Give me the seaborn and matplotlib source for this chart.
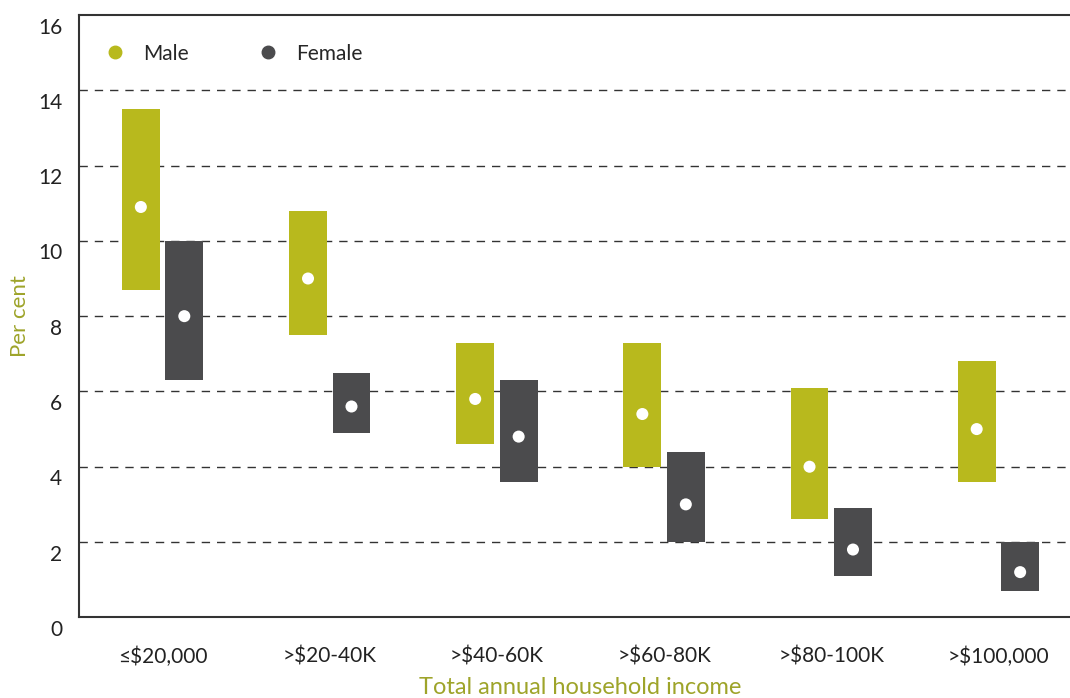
import numpy as np
import pandas as pd
import matplotlib.pyplot as plt
import matplotlib.transforms as mtransforms
import seaborn as sns
from matplotlib.lines import Line2D

# Data (per cent)
categories = ['≤$20,000', '>$20-40K', '>$40-60K', '>$60-80K', '>$80-100K', '>$100,000']
male_low = [8.7, 7.5, 4.6, 4.0, 2.6, 3.6]
male_high = [13.5, 10.8, 7.3, 7.3, 6.1, 6.8]
male_mid = [10.9, 9.0, 5.8, 5.4, 4.0, 5.0]
female_low = [6.3, 4.9, 3.6, 2.0, 1.1, 0.7]
female_high = [10.0, 6.5, 6.3, 4.4, 2.9, 2.0]
female_mid = [8.0, 5.6, 4.8, 3.0, 1.8, 1.2]

OLIVE = '#b8b91d'
DARK = '#4b4b4d'
LABEL = '#9ea42a'

rows = []
for i, c in enumerate(categories):
    rows.append(dict(cat=c, idx=i, sex='Male', low=male_low[i], high=male_high[i], mid=male_mid[i]))
    rows.append(dict(cat=c, idx=i, sex='Female', low=female_low[i], high=female_high[i], mid=female_mid[i]))
df = pd.DataFrame(rows)
offsets = {'Male': -0.13, 'Female': 0.13}
colors = {'Male': OLIVE, 'Female': DARK}
df['pos'] = df['idx'] + df['sex'].map(offsets)

sns.set_theme(style='white')
plt.rcParams['font.family'] = ['Lato', 'DejaVu Sans']

fig = plt.figure(figsize=(10.7, 6.98), dpi=100)
ax = fig.add_axes([79 / 1070, 80.7 / 698, 1003 / 1070, 602.3 / 698])

# floating range boxes
for sex in ['Male', 'Female']:
    d = df[df['sex'] == sex]
    ax.bar(d['pos'], d['high'] - d['low'], bottom=d['low'], width=0.227,
           color=colors[sex], zorder=3, linewidth=0)

# white point estimates
sns.scatterplot(data=df, x='pos', y='mid', color='white', s=75, edgecolor='none',
                zorder=4, ax=ax, legend=False)

ax.set_xlim(-0.5, 5.5)
ax.set_ylim(0, 16)
ax.set_yticks(np.arange(0, 17, 2))
ax.set_xticks(range(len(categories)))
ax.set_xticklabels(categories)
ax.set_xticks(np.arange(0.5, 5, 1), minor=True)
ax.tick_params(axis='x', which='major', length=0, pad=21, labelsize=15, labelcolor='#222222')
ax.tick_params(axis='x', which='minor', direction='in', length=11, width=1.2, color='#222222')
ax.tick_params(axis='y', length=0, pad=12, labelsize=15, labelcolor='#222222')

# y labels sit just below their gridline
shift = mtransforms.ScaledTranslation(0, -18.5 / 100, fig.dpi_scale_trans)
for lab in ax.get_yticklabels():
    lab.set_verticalalignment('baseline')
    lab.set_transform(lab.get_transform() + shift)

for y in range(2, 16, 2):
    ax.axhline(y, color='#333333', lw=1, dashes=(6, 5), zorder=1)

for side in ['top', 'left', 'bottom']:
    ax.spines[side].set_color('#333333')
    ax.spines[side].set_linewidth(1.5)
ax.spines['right'].set_visible(False)

ax.set_xlabel('Total annual household income', color=LABEL, fontsize=17, labelpad=7)
ax.set_ylabel('Per cent', color=LABEL, fontsize=16, labelpad=6)

handles = [Line2D([], [], marker='o', ls='none', color=OLIVE, markersize=9, label='Male'),
           Line2D([], [], marker='o', ls='none', color=DARK, markersize=9, label='Female')]
ax.legend(handles=handles, loc='center left', bbox_to_anchor=(0.0255, 0.936), ncol=2,
          frameon=False, fontsize=15, handlelength=1.0, handletextpad=0.85,
          columnspacing=3.3, borderpad=0, borderaxespad=0)

fig.savefig('out.png', dpi=100)
